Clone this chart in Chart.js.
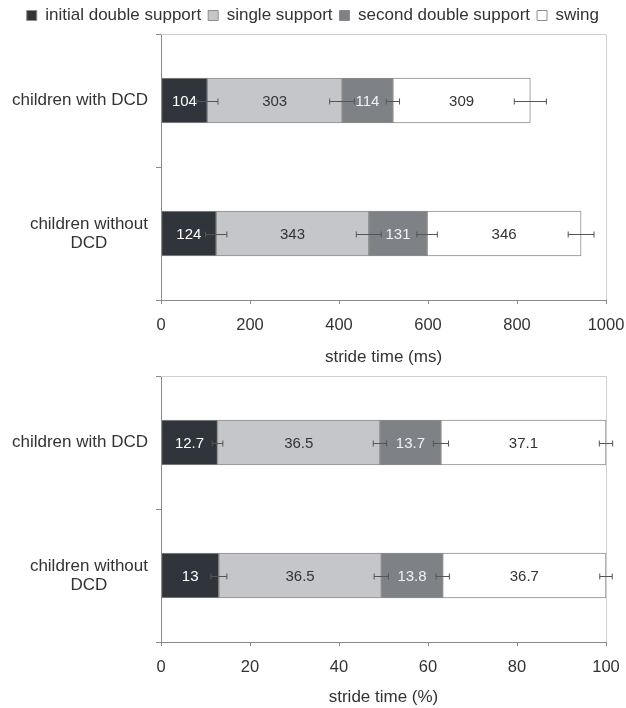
<!DOCTYPE html>
<html>
<head>
<meta charset="utf-8">
<script src="https://cdn.jsdelivr.net/npm/chart.js@4.4.1/dist/chart.umd.min.js"></script>
<style>
  html, body { margin: 0; padding: 0; background: #ffffff; }
  #wrap { position: relative; width: 626px; height: 708px; }
  #topBox { position: absolute; left: 0; top: 0; width: 626px; height: 372px; }
  #bottomBox { position: absolute; left: 0; top: 372px; width: 626px; height: 336px; }
</style>
</head>
<body>
<div id="wrap">
  <div id="topBox"><canvas id="msChart" width="626" height="372"></canvas></div>
  <div id="bottomBox"><canvas id="pctChart" width="626" height="336"></canvas></div>
</div>
<script>
// Groups (y categories) and gait phases (stacked segments)
const groups = ['children with DCD', ['children without', 'DCD']];
const phases = ['initial double support', 'single support', 'second double support', 'swing'];

// Phase durations in ms: [with DCD, without DCD]
const msInitialDouble = [104, 124];
const msSingle = [303, 343];
const msSecondDouble = [114, 131];
const msSwing = [309, 346];

// Error (ms) at the end of each phase: [with DCD, without DCD]
const msErrInitialDouble = [24, 24];
const msErrSingle = [28, 28];
const msErrSecondDouble = [15, 23];
const msErrSwing = [36, 29];

// Phase durations in % of stride time
const pctInitialDouble = [12.7, 13];
const pctSingle = [36.5, 36.5];
const pctSecondDouble = [13.7, 13.8];
const pctSwing = [37.1, 36.7];

// Error (%) at the end of each phase
const pctErrInitialDouble = [1.2, 1.8];
const pctErrSingle = [1.5, 1.6];
const pctErrSecondDouble = [1.7, 1.5];
const pctErrSwing = [1.5, 1.4];

// X axis ranges
const msAxis = { min: 0, max: 1000, step: 200 };
const pctAxis = { min: 0, max: 100, step: 20 };

const FONT = '"Liberation Sans", Arial, Helvetica, sans-serif';
const TEXT = '#333333';
const AXIS = '#8a8a8a';
const FRAME = '#cfcfcf';

const phaseFill = ['#2f353a', '#c4c6c9', '#7e8185', '#ffffff'];
const phaseValueColor = ['#ffffff', '#333333', '#f2f2f2', '#333333'];

function makeDatasets(series) {
  return series.map((values, i) => ({
    label: phases[i],
    data: values,
    backgroundColor: phaseFill[i],
    borderColor: '#8d8d8d',
    borderWidth: 1,
    borderSkipped: false,
    barThickness: 45
  }));
}

// Draws category labels: right-aligned blocks with centred lines
const groupLabels = {
  id: 'groupLabels',
  afterDraw(chart) {
    const ctx = chart.ctx;
    const yScale = chart.scales.y;
    const area = chart.chartArea;
    ctx.save();
    ctx.font = '17px ' + FONT;
    ctx.fillStyle = TEXT;
    ctx.textAlign = 'center';
    ctx.textBaseline = 'middle';
    const lineH = 19;
    chart.data.labels.forEach((lab, i) => {
      const lines = Array.isArray(lab) ? lab : [lab];
      const blockW = Math.max(...lines.map(l => ctx.measureText(l).width));
      const cx = area.left - 13 - blockW / 2;
      const cy = yScale.getPixelForTick(i);
      const y0 = cy - (lines.length - 1) * lineH / 2;
      lines.forEach((l, k) => ctx.fillText(l, cx, y0 + k * lineH));
    });
    ctx.restore();
  }
};

// Light frame on the top and right of the plot area
const plotFrame = {
  id: 'plotFrame',
  beforeDatasetsDraw(chart) {
    const ctx = chart.ctx;
    const a = chart.chartArea;
    ctx.save();
    ctx.strokeStyle = FRAME;
    ctx.lineWidth = 1;
    ctx.beginPath();
    ctx.moveTo(a.left, Math.round(a.top) + 0.5);
    ctx.lineTo(Math.round(a.right) + 0.5, Math.round(a.top) + 0.5);
    ctx.lineTo(Math.round(a.right) + 0.5, a.bottom);
    ctx.stroke();
    ctx.restore();
  }
};

// Horizontal error bars at the cumulative end of each phase, then value labels
const barExtras = {
  id: 'barExtras',
  afterDatasetsDraw(chart, args, opts) {
    const ctx = chart.ctx;
    const xScale = chart.scales.x;
    const ds = chart.data.datasets;
    ctx.save();
    // error bars
    ctx.strokeStyle = '#555555';
    ctx.lineWidth = 1;
    ds.forEach((d, i) => {
      const meta = chart.getDatasetMeta(i);
      d.data.forEach((v, j) => {
        let end = 0;
        for (let k = 0; k <= i; k++) end += ds[k].data[j];
        const err = opts.errors[i][j];
        const y = Math.round(meta.data[j].y) + 0.5;
        const x1 = xScale.getPixelForValue(end - err);
        const x2 = xScale.getPixelForValue(end + err);
        ctx.beginPath();
        ctx.moveTo(x1, y); ctx.lineTo(x2, y);
        ctx.moveTo(x1, y - 3); ctx.lineTo(x1, y + 3);
        ctx.moveTo(x2, y - 3); ctx.lineTo(x2, y + 3);
        ctx.stroke();
      });
    });
    // value labels
    ctx.font = '15px ' + FONT;
    ctx.textAlign = 'center';
    ctx.textBaseline = 'middle';
    ds.forEach((d, i) => {
      const meta = chart.getDatasetMeta(i);
      ctx.fillStyle = phaseValueColor[i];
      d.data.forEach((v, j) => {
        const bar = meta.data[j];
        ctx.fillText(String(v), (bar.x + bar.base) / 2, bar.y + 1);
      });
    });
    ctx.restore();
  }
};

function makeOptions(axis, title, withLegend, scaleHeight, titlePadBottom) {
  return {
    indexAxis: 'y',
    responsive: false,
    animation: false,
    layout: { padding: { left: 0, right: 20, top: withLegend ? 0 : 4, bottom: 0 } },
    plugins: {
      legend: {
        display: withLegend,
        position: 'top',
        align: 'end',
        labels: {
          font: { family: FONT, size: 17 },
          color: TEXT,
          boxWidth: 10,
          boxHeight: 10,
          padding: 7
        }
      },
      tooltip: { enabled: false },
      barExtras: { errors: axis.errors }
    },
    scales: {
      x: {
        stacked: true,
        min: axis.min,
        max: axis.max,
        afterFit(s) { s.height = scaleHeight; s.paddingLeft = 0; s.paddingRight = 0; },
        ticks: {
          stepSize: axis.step,
          color: TEXT,
          font: { family: FONT, size: 16.5 },
          padding: 12,
          maxRotation: 0,
          callback: (v) => String(v)
        },
        grid: { drawOnChartArea: false, drawTicks: true, tickLength: 4, color: AXIS },
        border: { display: true, color: AXIS, width: 1 },
        title: {
          display: true,
          text: title,
          color: TEXT,
          font: { family: FONT, size: 17 },
          padding: { top: 0, bottom: titlePadBottom }
        }
      },
      y: {
        stacked: true,
        afterFit(s) { s.width = 161; },
        ticks: { display: false },
        grid: { offset: true, drawOnChartArea: false, drawTicks: true, tickLength: 5, color: AXIS },
        border: { display: true, color: AXIS, width: 1 }
      }
    }
  };
}

new Chart(document.getElementById('msChart'), {
  type: 'bar',
  data: {
    labels: groups,
    datasets: makeDatasets([msInitialDouble, msSingle, msSecondDouble, msSwing])
  },
  options: makeOptions(
    { min: msAxis.min, max: msAxis.max, step: msAxis.step,
      errors: [msErrInitialDouble, msErrSingle, msErrSecondDouble, msErrSwing] },
    'stride time (ms)', true, 72, 4),
  plugins: [plotFrame, barExtras, groupLabels]
});

new Chart(document.getElementById('pctChart'), {
  type: 'bar',
  data: {
    labels: groups,
    datasets: makeDatasets([pctInitialDouble, pctSingle, pctSecondDouble, pctSwing])
  },
  options: makeOptions(
    { min: pctAxis.min, max: pctAxis.max, step: pctAxis.step,
      errors: [pctErrInitialDouble, pctErrSingle, pctErrSecondDouble, pctErrSwing] },
    'stride time (%)', false, 66, 0),
  plugins: [plotFrame, barExtras, groupLabels]
});
</script>
</body>
</html>
